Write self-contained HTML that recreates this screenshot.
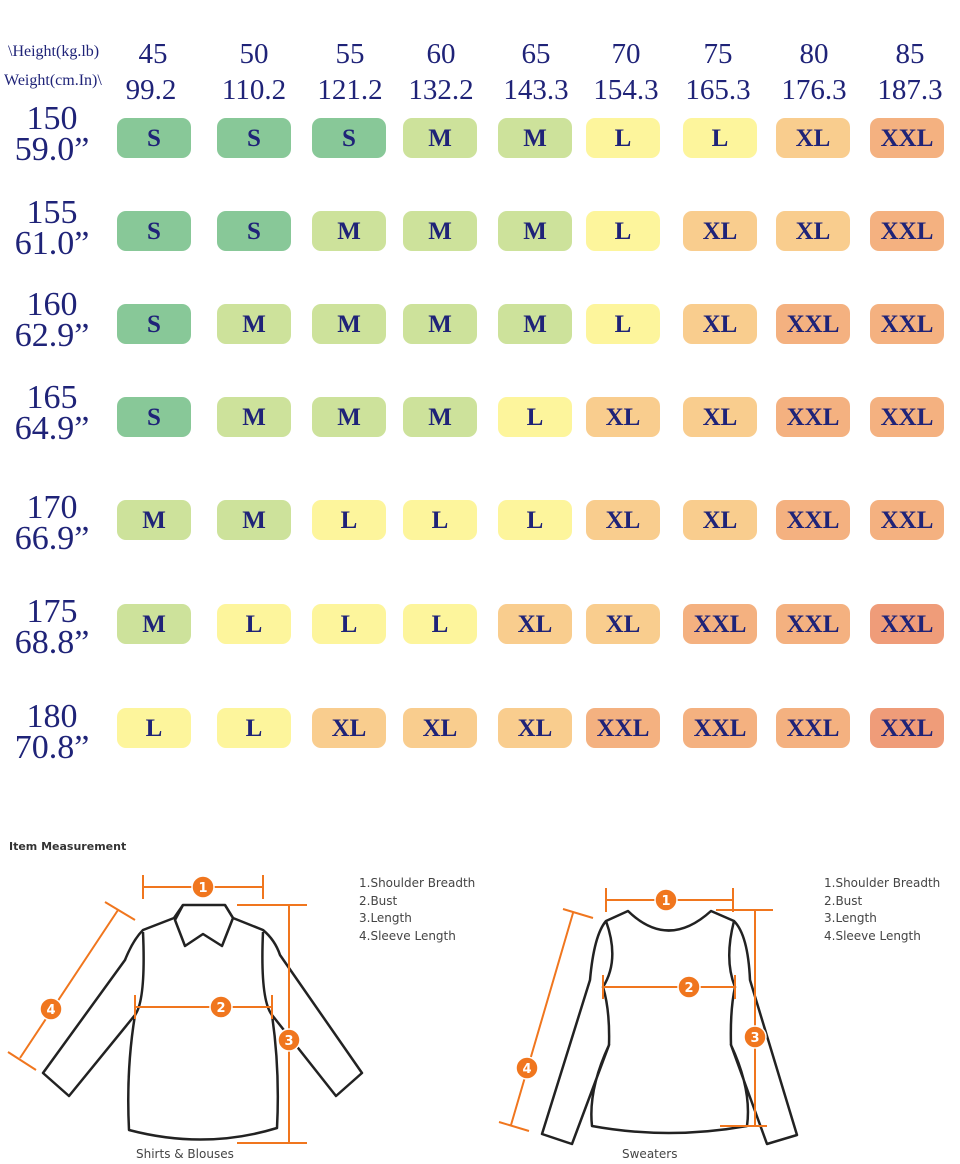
<!DOCTYPE html>
<html><head><meta charset="utf-8"><style>
body{margin:0;background:#fff;width:960px;height:1164px;position:relative;overflow:hidden;font-family:"Liberation Serif",serif;color:#1f2378}
.h{position:absolute;font-size:29px;text-align:center;width:100px;line-height:30px}
.lab{position:absolute;left:0;width:104px;text-align:center;font-size:34px;line-height:31px}
.c{position:absolute;width:74px;height:40px;border-radius:9px;font-size:25px;line-height:41px;text-align:center;font-weight:bold}
.S{background:#88c898}.M{background:#cde29b}.L{background:#fdf59c}.X{background:#f9cd8e}.XX{background:#f4b180}.XD{background:#ef9c79}
.t{position:absolute;font-family:"DejaVu Sans",sans-serif;font-size:12px;color:#444;line-height:17.7px}
</style></head><body>
<div style="position:absolute;left:8px;top:43px;font-size:16px">\Height(kg.lb)</div>
<div style="position:absolute;left:4px;top:72px;font-size:16px">Weight(cm.In)\</div>
<div class="h" style="left:103px;top:39px">45</div><div class="h" style="left:101px;top:75px">99.2</div>
<div class="h" style="left:204px;top:39px">50</div><div class="h" style="left:204px;top:75px">110.2</div>
<div class="h" style="left:300px;top:39px">55</div><div class="h" style="left:300px;top:75px">121.2</div>
<div class="h" style="left:391px;top:39px">60</div><div class="h" style="left:391px;top:75px">132.2</div>
<div class="h" style="left:486px;top:39px">65</div><div class="h" style="left:486px;top:75px">143.3</div>
<div class="h" style="left:576px;top:39px">70</div><div class="h" style="left:576px;top:75px">154.3</div>
<div class="h" style="left:668px;top:39px">75</div><div class="h" style="left:668px;top:75px">165.3</div>
<div class="h" style="left:764px;top:39px">80</div><div class="h" style="left:764px;top:75px">176.3</div>
<div class="h" style="left:860px;top:39px">85</div><div class="h" style="left:860px;top:75px">187.3</div>

<div class="lab" style="top:103px">150<br>59.0”</div>
<div class="lab" style="top:197px">155<br>61.0”</div>
<div class="lab" style="top:289px">160<br>62.9”</div>
<div class="lab" style="top:382px">165<br>64.9”</div>
<div class="lab" style="top:492px">170<br>66.9”</div>
<div class="lab" style="top:596px">175<br>68.8”</div>
<div class="lab" style="top:701px">180<br>70.8”</div>

<div style="position:absolute;left:0;top:118px">
<div class="c S" style="left:117px">S</div><div class="c S" style="left:217px">S</div><div class="c S" style="left:312px">S</div><div class="c M" style="left:403px">M</div><div class="c M" style="left:498px">M</div><div class="c L" style="left:586px">L</div><div class="c L" style="left:683px">L</div><div class="c X" style="left:776px">XL</div><div class="c XX" style="left:870px">XXL</div></div>
<div style="position:absolute;left:0;top:211px">
<div class="c S" style="left:117px">S</div><div class="c S" style="left:217px">S</div><div class="c M" style="left:312px">M</div><div class="c M" style="left:403px">M</div><div class="c M" style="left:498px">M</div><div class="c L" style="left:586px">L</div><div class="c X" style="left:683px">XL</div><div class="c X" style="left:776px">XL</div><div class="c XX" style="left:870px">XXL</div></div>
<div style="position:absolute;left:0;top:304px">
<div class="c S" style="left:117px">S</div><div class="c M" style="left:217px">M</div><div class="c M" style="left:312px">M</div><div class="c M" style="left:403px">M</div><div class="c M" style="left:498px">M</div><div class="c L" style="left:586px">L</div><div class="c X" style="left:683px">XL</div><div class="c XX" style="left:776px">XXL</div><div class="c XX" style="left:870px">XXL</div></div>
<div style="position:absolute;left:0;top:397px">
<div class="c S" style="left:117px">S</div><div class="c M" style="left:217px">M</div><div class="c M" style="left:312px">M</div><div class="c M" style="left:403px">M</div><div class="c L" style="left:498px">L</div><div class="c X" style="left:586px">XL</div><div class="c X" style="left:683px">XL</div><div class="c XX" style="left:776px">XXL</div><div class="c XX" style="left:870px">XXL</div></div>
<div style="position:absolute;left:0;top:500px">
<div class="c M" style="left:117px">M</div><div class="c M" style="left:217px">M</div><div class="c L" style="left:312px">L</div><div class="c L" style="left:403px">L</div><div class="c L" style="left:498px">L</div><div class="c X" style="left:586px">XL</div><div class="c X" style="left:683px">XL</div><div class="c XX" style="left:776px">XXL</div><div class="c XX" style="left:870px">XXL</div></div>
<div style="position:absolute;left:0;top:604px">
<div class="c M" style="left:117px">M</div><div class="c L" style="left:217px">L</div><div class="c L" style="left:312px">L</div><div class="c L" style="left:403px">L</div><div class="c X" style="left:498px">XL</div><div class="c X" style="left:586px">XL</div><div class="c XX" style="left:683px">XXL</div><div class="c XX" style="left:776px">XXL</div><div class="c XD" style="left:870px">XXL</div></div>
<div style="position:absolute;left:0;top:708px">
<div class="c L" style="left:117px">L</div><div class="c L" style="left:217px">L</div><div class="c X" style="left:312px">XL</div><div class="c X" style="left:403px">XL</div><div class="c X" style="left:498px">XL</div><div class="c XX" style="left:586px">XXL</div><div class="c XX" style="left:683px">XXL</div><div class="c XX" style="left:776px">XXL</div><div class="c XD" style="left:870px">XXL</div></div>

<div style="position:absolute;left:9px;top:840px;font-family:'DejaVu Sans',sans-serif;font-weight:bold;font-size:11px;color:#333">Item Measurement</div>
<div class="t" style="left:359px;top:875px">1.Shoulder Breadth<br>2.Bust<br>3.Length<br>4.Sleeve Length</div>
<div class="t" style="left:824px;top:875px">1.Shoulder Breadth<br>2.Bust<br>3.Length<br>4.Sleeve Length</div>
<div class="t" style="left:136px;top:1146px">Shirts &amp; Blouses</div>
<div class="t" style="left:622px;top:1146px">Sweaters</div>

<svg width="960" height="1164" style="position:absolute;left:0;top:0" fill="none">
<g stroke="#222" stroke-width="2.5" stroke-linejoin="round">
<path d="M183,905 L225,905 L233,918 L263,930 Q275,940 280,955 L362,1073 L336,1096 L272,1015 Q280,1070 277,1128 Q205,1150 129,1130 Q126,1070 135,1015 L69,1096 L43,1073 L125,960 Q133,940 143,930 L174,918 Z"/>
<path d="M183,905 L175,920 L185,946 L203,934 L222,946 L233,918 L225,905"/>
<path d="M143,932 Q146,1000 135,1015 M263,932 Q260,1000 272,1015"/>
<path d="M628,911 Q668,950 711,911 L734,921 Q748,935 750,980 L797,1135 L767,1144 L731,1045 Q752,1090 747,1126 Q668,1140 592,1126 Q588,1090 609,1045 L572,1144 L542,1134 L590,980 Q594,935 606,921 Z"/>
<path d="M606,921 Q620,960 603,987 Q610,1010 609,1045 M734,921 Q724,960 735,987 Q730,1010 731,1045"/>
</g>
<g stroke="#f0761e" stroke-width="2">
<path d="M143,887 H263 M143,875 V899 M263,875 V899"/>
<path d="M135,1007 H272 M135,995 V1019 M272,995 V1019"/>
<path d="M289,905 V1143 M237,905 H307 M237,1143 H307"/>
<path d="M118,910 L20,1058 M105,902 L135,920 M8,1052 L36,1070"/>
<path d="M606,900 H733 M606,888 V912 M733,888 V912"/>
<path d="M603,987 H735 M603,975 V999 M735,975 V999"/>
<path d="M755,910 V1126 M716,910 H773 M720,1126 H767"/>
<path d="M573,913 L511,1125 M563,909 L593,918 M499,1122 L529,1131"/>
</g>
<g fill="#f0761e" stroke="#fff" stroke-width="1.5">
<circle cx="203" cy="887" r="11"/><circle cx="221" cy="1007" r="11"/><circle cx="289" cy="1040" r="11"/><circle cx="51" cy="1009" r="11"/>
<circle cx="666" cy="900" r="11"/><circle cx="689" cy="987" r="11"/><circle cx="755" cy="1037" r="11"/><circle cx="527" cy="1068" r="11"/>
</g>
<g fill="#fff" font-family="DejaVu Sans,sans-serif" font-weight="bold" font-size="13" text-anchor="middle">
<text x="203" y="892">1</text><text x="221" y="1012">2</text><text x="289" y="1045">3</text><text x="51" y="1014">4</text>
<text x="666" y="905">1</text><text x="689" y="992">2</text><text x="755" y="1042">3</text><text x="527" y="1073">4</text>
</g>
</svg>
</body></html>
